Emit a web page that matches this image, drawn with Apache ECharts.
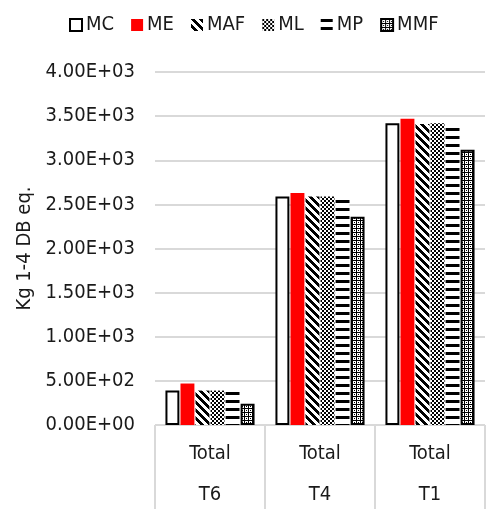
<!DOCTYPE html>
<html>
<head>
<meta charset="utf-8">
<script src="https://cdn.jsdelivr.net/npm/echarts@6/dist/echarts.min.js"></script>
<style>
  html, body { margin: 0; padding: 0; background: #fff; }
  #chart { width: 489px; height: 509px; }
</style>
</head>
<body>
<div id="chart"></div>
<script>
// Category groups (outer level) and the shared inner label
const groups = ['T6', 'T4', 'T1'];
const innerLabel = 'Total';

// Series values, kg 1-4 DB eq.
const seriesNames = ['MC', 'ME', 'MAF', 'ML', 'MP', 'MMF'];
const MC  = [390, 2590, 3420];
const ME  = [470, 2630, 3470];
const MAF = [390, 2590, 3410];
const ML  = [390, 2590, 3420];
const MP  = [390, 2590, 3400];
const MMF = [240, 2360, 3120];

// Value axis ticks
const yMin = 0, yMax = 4000, yStep = 500;

function tile(w, h, draw) {
  const c = document.createElement('canvas');
  c.width = w; c.height = h;
  const g = c.getContext('2d');
  g.fillStyle = '#fff';
  g.fillRect(0, 0, w, h);
  g.fillStyle = '#000';
  draw(g);
  return { image: c, repeat: 'repeat' };
}

// Fill patterns
const diagPattern = tile(8, 8, g => {
  for (let y = 0; y < 8; y++) {
    for (let x = 0; x < 8; x++) {
      if (((x - y) % 8 + 8) % 8 < 4) g.fillRect(x, y, 1, 1);
    }
  }
});
const checkPattern = tile(4, 4, g => {
  g.fillRect(0, 0, 2, 2);
  g.fillRect(2, 2, 2, 2);
});
const stripePattern = tile(8, 8, g => {
  g.fillRect(0, 0, 8, 3);
});
const dotPattern = tile(4, 4, g => {
  g.fillRect(0, 0, 4, 1);
  g.fillRect(0, 0, 1, 4);
  g.fillRect(2, 2, 1, 1);
});

const fills = {
  MC:  { color: '#ffffff', borderColor: '#000', borderWidth: 2 },
  ME:  { color: '#ff0000' },
  MAF: { color: diagPattern },
  ML:  { color: checkPattern },
  MP:  { color: stripePattern },
  MMF: { color: dotPattern, borderColor: '#000', borderWidth: 2 }
};
const values = { MC, ME, MAF, ML, MP, MMF };

function sci(v) {
  if (v === 0) return '0.00E+00';
  const e = Math.floor(Math.log10(v));
  const m = v / Math.pow(10, e);
  return m.toFixed(2) + 'E+' + String(e).padStart(2, '0');
}

const FONT = '"DejaVu Sans Condensed", sans-serif';
const FS = 20;
const INK = '#1a1a1a';
const chart = echarts.init(document.getElementById('chart'), null, { renderer: 'canvas' });

chart.setOption({
  animation: false,
  textStyle: { fontFamily: FONT },
  legend: {
    top: 10,
    left: 64,
    itemWidth: 12,
    itemHeight: 12,
    itemGap: 17,
    icon: 'rect',
    textStyle: { fontSize: FS, color: INK, fontFamily: FONT, padding: [0, 0, 0, -1] },
    data: seriesNames
  },
  grid: { left: 155, right: 4, top: 72, bottom: 84, containLabel: false },
  xAxis: {
    type: 'category',
    data: groups,
    axisLine: { show: true, lineStyle: { color: '#d9d9d9', width: 1 } },
    axisTick: {
      show: true,
      length: 84,
      lineStyle: { color: '#d9d9d9', width: 2 },
      interval: (i) => i < groups.length
    },
    axisLabel: {
      margin: 8,
      formatter: (v) => '{a|' + innerLabel + '}\n{a|' + v + '}',
      rich: { a: { fontSize: FS, lineHeight: 41, color: INK, fontFamily: FONT } }
    }
  },
  yAxis: {
    type: 'value',
    min: yMin,
    max: yMax,
    interval: yStep,
    name: 'Kg 1-4 DB eq.',
    nameLocation: 'middle',
    nameGap: 114,
    nameTextStyle: { fontSize: FS, color: INK, fontFamily: FONT },
    axisLine: { show: false },
    axisTick: { show: false },
    splitLine: { lineStyle: { color: '#d9d9d9', width: 2 } },
    axisLabel: { fontSize: FS, color: INK, margin: 20, formatter: sci, fontFamily: FONT }
  },
  series: seriesNames.map(n => ({
    name: n,
    type: 'bar',
    data: values[n],
    barCategoryGap: '19%',
    barGap: '8%',
    itemStyle: fills[n]
  }))
});
</script>
</body>
</html>
